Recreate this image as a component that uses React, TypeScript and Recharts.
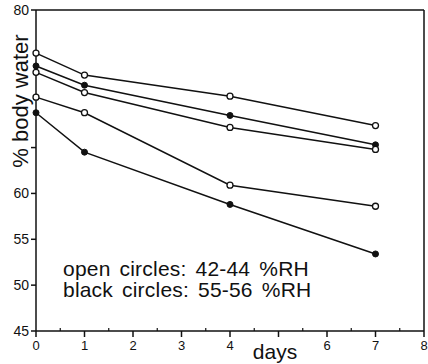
import { LineChart, Line, XAxis, YAxis, ReferenceLine } from 'recharts';

const days = [0, 1, 4, 7];
const openTop = [75.3, 72.9, 70.6, 67.4];
const blackUpper = [73.9, 71.8, 68.5, 65.3];
const openMid = [73.2, 71.0, 67.2, 64.8];
const openLow = [70.5, 68.8, 60.9, 58.6];
const blackLow = [68.8, 64.5, 58.8, 53.4];

const xTicks = [0, 0.5, 1, 1.5, 2, 2.5, 3, 3.5, 4, 4.5, 5, 5.5, 6, 6.5, 7, 7.5, 8];
const yTicks = [45, 50, 55, 60, 65, 80];

const data = days.map((d, i) => ({
  day: d,
  openTop: openTop[i],
  blackUpper: blackUpper[i],
  openMid: openMid[i],
  openLow: openLow[i],
  blackLow: blackLow[i],
}));

const FONT = '"Liberation Sans", Arial, Helvetica, sans-serif';
const INK = '#111';

const openDot = { r: 3, fill: '#fff', stroke: INK, strokeWidth: 1.3 };
const blackDot = { r: 3, fill: INK, stroke: INK, strokeWidth: 1 };

function XTick({ x, y, payload }: { x?: number; y?: number; payload?: { value: number } }) {
  const v = payload?.value ?? 0;
  const major = Number.isInteger(v);
  if (!major) return <line x1={x} x2={x} y1={y} y2={(y ?? 0) - 3} stroke={INK} strokeWidth={1.2} />;
  return (
    <g>
      <line x1={x} x2={x} y1={y} y2={(y ?? 0) + 6} stroke={INK} strokeWidth={1.5} />
      {v !== 5 && (
        <text x={x} y={(y ?? 0) + 19} textAnchor="middle" fontSize={13} fill={INK} fontFamily={FONT}>{v}</text>
      )}
    </g>
  );
}

export default function App() {
  return (
    <div style={{ position: 'absolute', left: 0, top: 0, width: 428, height: 364, background: '#fff' }}>
      <LineChart width={428} height={364} data={data} margin={{ top: 10, right: 4, bottom: 0, left: 0 }}>
        <XAxis
          dataKey="day"
          type="number"
          domain={[0, 8]}
          ticks={xTicks}
          interval={0}
          height={33}
          tickSize={0}
          tickMargin={0}
          tickLine={false}
          axisLine={{ stroke: INK, strokeWidth: 1.5 }}
          tick={<XTick />}
        />
        <YAxis
          type="number"
          domain={[45, 80]}
          ticks={yTicks}
          interval={0}
          width={36}
          tickSize={5}
          tickMargin={2}
          tickFormatter={(v: number) => (v === 65 ? '' : String(v))}
          tickLine={{ stroke: INK, strokeWidth: 1.5 }}
          axisLine={{ stroke: INK, strokeWidth: 1.5 }}
          tick={{ fontSize: 14, fill: INK, fontFamily: FONT }}
        />
        <ReferenceLine y={80} stroke={INK} strokeWidth={1.5} />
        <ReferenceLine x={8} stroke={INK} strokeWidth={1.5} />
        <Line dataKey="openTop" stroke={INK} strokeWidth={1.5} dot={openDot} isAnimationActive={false} />
        <Line dataKey="blackUpper" stroke={INK} strokeWidth={1.5} dot={blackDot} isAnimationActive={false} />
        <Line dataKey="openMid" stroke={INK} strokeWidth={1.5} dot={openDot} isAnimationActive={false} />
        <Line dataKey="openLow" stroke={INK} strokeWidth={1.5} dot={openDot} isAnimationActive={false} />
        <Line dataKey="blackLow" stroke={INK} strokeWidth={1.5} dot={blackDot} isAnimationActive={false} />
      </LineChart>
      <svg width={428} height={364} style={{ position: 'absolute', left: 0, top: 0, pointerEvents: 'none' }}>
        <text x={28} y={101} transform="rotate(-90 28 101)" textAnchor="middle" fontSize={22} fill={INK} fontFamily={FONT}>% body water</text>
        <text x={63} y={276} fontSize={21} fill={INK} fontFamily={FONT} letterSpacing={0.2} wordSpacing={3}>open circles: 42-44 %RH</text>
        <text x={63} y={297} fontSize={21} fill={INK} fontFamily={FONT} letterSpacing={0.2} wordSpacing={3}>black circles: 55-56 %RH</text>
        <text x={275} y={359} textAnchor="middle" fontSize={21} fill={INK} fontFamily={FONT}>days</text>
      </svg>
    </div>
  );
}
